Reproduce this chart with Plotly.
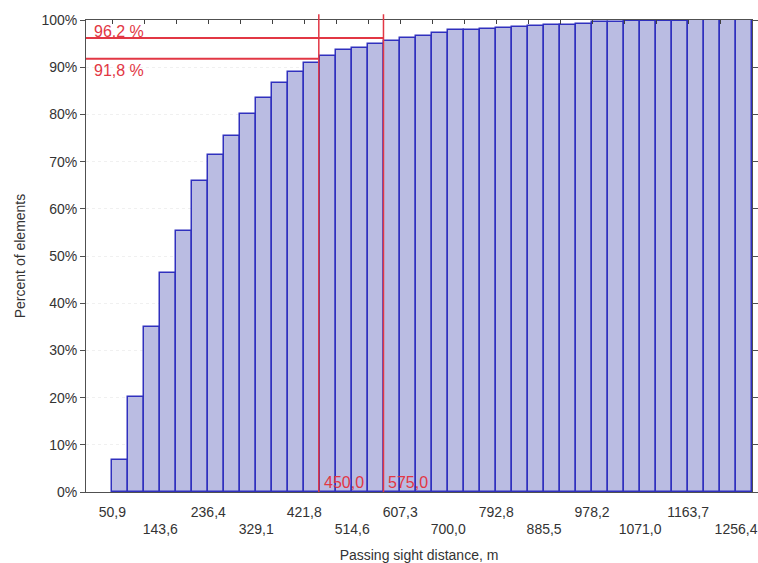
import plotly.graph_objects as go

# Histogram bins (passing sight distance, m) and cumulative share of elements
first_edge = 50.9
last_labelled_edge = 1256.4
n_bins = 40
cumulative_pct = [6.8, 20.2, 34.9, 46.4, 55.3, 65.8, 71.3, 75.5, 80.1, 83.5,
                  86.7, 88.9, 90.8, 92.4, 93.6, 94.1, 94.9, 95.5, 96.1, 96.6,
                  97.3, 97.8, 97.9, 98.0, 98.3, 98.6, 98.7, 99.0, 99.0, 99.1,
                  99.5, 99.6, 99.7, 99.7, 99.8, 99.8, 99.9, 99.9, 100.0, 100.0]

tick_labels = ["50,9", "143,6", "236,4", "329,1", "421,8", "514,6", "607,3",
               "700,0", "792,8", "885,5", "978,2", "1071,0", "1163,7", "1256,4"]
tick_values = [50.9, 143.6, 236.4, 329.1, 421.8, 514.6, 607.3,
               700.0, 792.8, 885.5, 978.2, 1071.0, 1163.7, 1256.4]

y_ticks = [0, 10, 20, 30, 40, 50, 60, 70, 80, 90, 100]
y_tick_labels = [f"{v}%" for v in y_ticks]

# Marked thresholds
dist_a, pct_a = 450.0, 91.8
dist_b, pct_b = 575.0, 96.2

bin_width = (last_labelled_edge - first_edge) / (n_bins - 1)
edges = [first_edge + k * bin_width for k in range(n_bins + 1)]
centers = [(edges[k] + edges[k + 1]) / 2 for k in range(n_bins)]
x_max = edges[-1]

RED = "#e23744"
TXT = "#333333"
FONT = "Liberation Sans, Arial, sans-serif"

fig = go.Figure()
fig.add_trace(go.Bar(
    x=centers, y=cumulative_pct, width=bin_width,
    marker=dict(color="rgb(186,188,226)",
                line=dict(color="rgb(48,48,190)", width=1.5)),
    showlegend=False, hoverinfo="x+y",
))
# invisible trace carrying the top tick marks
fig.add_trace(go.Scatter(x=[0, x_max], y=[0, 0], xaxis="x2", mode="lines",
                         line=dict(width=0), showlegend=False, hoverinfo="skip"))
# invisible trace carrying the second row of x labels
fig.add_trace(go.Scatter(x=[0, x_max], y=[0, 0], xaxis="x3", mode="lines",
                         line=dict(width=0), showlegend=False, hoverinfo="skip"))

even_vals = tick_values[0::2]
even_text = tick_labels[0::2]
odd_vals = tick_values[1::2]
odd_text = tick_labels[1::2]

fig.update_layout(
    width=758, height=563,
    margin=dict(l=86, r=6, t=20, b=71),
    paper_bgcolor="white", plot_bgcolor="white",
    font=dict(family=FONT, size=14, color=TXT),
    bargap=0,
    xaxis=dict(
        range=[0, x_max], tickmode="array", tickvals=even_vals, ticktext=even_text,
        ticks="", ticklabelstandoff=7, showgrid=False, zeroline=False,
        showline=True, linecolor="#505050", linewidth=1, mirror=True,
        automargin=False,
        title=dict(text="Passing sight distance, m", standoff=31,
                   font=dict(size=14, color=TXT)),
        tickfont=dict(size=14, color=TXT),
    ),
    xaxis2=dict(
        range=[0, x_max], overlaying="x", side="top", anchor="y",
        tickmode="array", tickvals=edges[0::2], showticklabels=False,
        ticks="inside", ticklen=4, tickcolor="#404040", tickwidth=1,
        showgrid=False, zeroline=False, showline=False, automargin=False,
    ),
    xaxis3=dict(
        range=[0, x_max], overlaying="x", side="bottom", anchor="y",
        tickmode="array", tickvals=odd_vals, ticktext=odd_text,
        ticks="", ticklabelstandoff=27, showgrid=False, zeroline=False,
        showline=False, automargin=False, tickfont=dict(size=14, color=TXT),
    ),
    yaxis=dict(
        range=[0, 100], tickmode="array", tickvals=y_ticks, ticktext=y_tick_labels,
        ticks="outside", ticklen=5, tickcolor="#505050",
        showline=True, linecolor="#505050", linewidth=1, mirror="ticks",
        showgrid=True, gridcolor="#f0f0f0", griddash="dot", gridwidth=1,
        zeroline=False, automargin=False,
        title=dict(text="Percent of elements", standoff=12,
                   font=dict(size=14, color=TXT)),
        tickfont=dict(size=14, color=TXT),
    ),
)

# threshold guide lines
for d in (dist_a, dist_b):
    fig.add_shape(type="line", xref="x", yref="paper", x0=d, x1=d, y0=0, y1=1.012,
                  line=dict(color=RED, width=1.5), layer="above")
for d, p in ((dist_a, pct_a), (dist_b, pct_b)):
    fig.add_shape(type="line", xref="x", yref="y", x0=0, x1=d, y0=p, y1=p,
                  line=dict(color=RED, width=2), layer="above")

ann_font = dict(family=FONT, size=16, color=RED)
fig.add_annotation(x=12, y=pct_b + 1.3, xref="x", yref="y", text="96,2 %",
                   showarrow=False, xanchor="left", yanchor="middle", font=ann_font)
fig.add_annotation(x=12, y=pct_a - 2.4, xref="x", yref="y", text="91,8 %",
                   showarrow=False, xanchor="left", yanchor="middle", font=ann_font)
fig.add_annotation(x=dist_a, y=2.1, xref="x", yref="y", text="450,0", xshift=3,
                   showarrow=False, xanchor="left", yanchor="middle", font=ann_font)
fig.add_annotation(x=dist_b, y=2.1, xref="x", yref="y", text="575,0", xshift=3,
                   showarrow=False, xanchor="left", yanchor="middle", font=ann_font)

fig.write_html("out.html")
